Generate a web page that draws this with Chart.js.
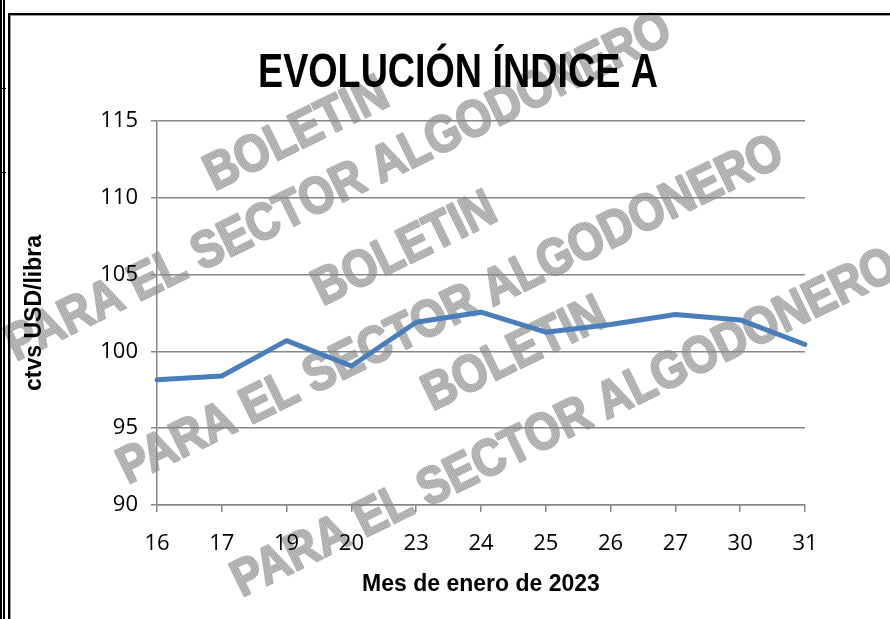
<!DOCTYPE html>
<html>
<head>
<meta charset="utf-8">
<script src="https://cdn.jsdelivr.net/npm/chart.js@4"></script>
<style>
  html, body { margin: 0; padding: 0; background: #ffffff; }
  #wrap { position: relative; width: 890px; height: 619px; overflow: hidden; }
</style>
</head>
<body>
<div id="wrap"><canvas id="indiceChart" width="890" height="619"></canvas></div>
<script>
// data
const dias = ['16', '17', '19', '20', '23', '24', '25', '26', '27', '30', '31'];
const indiceA = [98.15, 98.4, 100.7, 99.05, 101.9, 102.55, 101.25, 101.75, 102.4, 102.05, 100.45];
const yMin = 90;
const yMax = 115;
const yStep = 5;

const tituloGrafico = 'EVOLUCIÓN ÍNDICE A';
const tituloX = 'Mes de enero de 2023';
const tituloY = 'ctvs USD/libra';
const marcaAgua = ['BOLETIN', 'PARA EL SECTOR ALGODONERO'];

const gridColor = '#868686';
const lineColor = '#4a7ebb';

// watermark drawn under everything
const watermarkPlugin = {
    id: 'watermark',
    beforeDraw(chart) {
        const ctx = chart.ctx;
        ctx.save();
        ctx.fillStyle = '#ffffff';
        ctx.fillRect(0, 0, chart.width, chart.height);

        // dotted gray texture
        const tile = document.createElement('canvas');
        tile.width = 2; tile.height = 2;
        const tctx = tile.getContext('2d');
        tctx.fillStyle = '#a8a8a8';
        tctx.fillRect(0, 0, 2, 2);
        tctx.fillStyle = '#d2d2d2';
        tctx.fillRect(1, 1, 1, 1);
        const pattern = ctx.createPattern(tile, 'repeat');

        const boletin = [[297, 135], [405, 250], [515, 355]];
        const sector = [[339, 188], [451, 311], [565, 424]];
        ctx.font = 'bold 45px "Liberation Sans", Arial, sans-serif';
        ctx.textAlign = 'center';
        ctx.textBaseline = 'middle';
        ctx.fillStyle = pattern;
        ctx.strokeStyle = pattern;
        ctx.lineWidth = 2;
        ctx.lineJoin = 'round';
        const ang = -26 * Math.PI / 180;
        const pares = [[boletin, marcaAgua[0]], [sector, marcaAgua[1]]];
        for (let i = 0; i < 3; i++) {
            pares.forEach(function(p) {
                ctx.save();
                ctx.translate(p[0][i][0], p[0][i][1]);
                ctx.rotate(ang);
                ctx.scale(1, 1.15);
                ctx.fillText(p[1], 0, 0);
                ctx.strokeText(p[1], 0, 0);
                ctx.restore();
            });
        }
        ctx.restore();
    }
};

// narrow bold title, centered like the original
const titlePlugin = {
    id: 'narrowTitle',
    afterDraw(chart) {
        const ctx = chart.ctx;
        ctx.save();
        ctx.font = 'bold 49px "Liberation Sans", Arial, sans-serif';
        ctx.fillStyle = '#000000';
        ctx.textAlign = 'center';
        ctx.textBaseline = 'alphabetic';
        const w = ctx.measureText(tituloGrafico).width;
        ctx.translate(458, 87);
        ctx.scale(400 / w, 1);
        ctx.fillText(tituloGrafico, 0, 0);
        ctx.restore();
    }
};

// page frame lines around the chart
const framePlugin = {
    id: 'frame',
    afterDraw(chart) {
        const ctx = chart.ctx;
        const h = chart.height;
        const w = chart.width;
        ctx.save();
        ctx.fillStyle = '#000000';
        ctx.fillRect(0, 0, 2, h);
        ctx.fillRect(3, 0, 2, h);
        ctx.fillRect(8, 14, 2, h);
        ctx.fillRect(8, 13, w, 2);
        ctx.fillRect(0, 88, 6, 1);
        ctx.fillRect(0, 172, 6, 1);
        ctx.fillStyle = '#9a9a9a';
        ctx.fillRect(10, 15, 1, h);
        ctx.fillRect(10, 15, w, 1);
        ctx.restore();
    }
};

const ctx = document.getElementById('indiceChart').getContext('2d');
new Chart(ctx, {
    type: 'line',
    data: {
        labels: dias,
        datasets: [{
            label: tituloGrafico,
            data: indiceA,
            borderColor: lineColor,
            backgroundColor: lineColor,
            borderWidth: 5,
            pointRadius: 0,
            tension: 0,
            fill: false,
            borderJoinStyle: 'round',
            borderCapStyle: 'round'
        }]
    },
    options: {
        responsive: false,
        animation: false,
        layout: {
            padding: { top: 121, right: 85, bottom: 0, left: 0 }
        },
        plugins: {
            legend: { display: false },
            tooltip: { enabled: false },
            title: { display: false }
        },
        scales: {
            x: {
                offset: false,
                afterFit: function(scale) { scale.height = 114; },
                grid: {
                    drawOnChartArea: false,
                    drawTicks: true,
                    tickLength: 7,
                    color: gridColor,
                    lineWidth: 1.5
                },
                border: { display: true, color: gridColor, width: 1.5 },
                ticks: {
                    color: '#000000',
                    font: { family: '"Open Sans", sans-serif', size: 22 },
                    padding: 19,
                    maxRotation: 0,
                    autoSkip: false
                },
                title: {
                    display: true,
                    text: tituloX,
                    color: '#000000',
                    font: { family: '"Liberation Sans", Arial, sans-serif', size: 23, weight: 'bold' },
                    padding: { top: 0, bottom: 21 }
                }
            },
            y: {
                min: yMin,
                max: yMax,
                afterFit: function(scale) { scale.width = 157; },
                grid: {
                    color: gridColor,
                    lineWidth: 1.5,
                    tickLength: 6
                },
                border: { display: true, color: gridColor, width: 1.5 },
                ticks: {
                    stepSize: yStep,
                    color: '#000000',
                    font: { family: '"Open Sans", sans-serif', size: 22 },
                    padding: 13
                },
                title: {
                    display: true,
                    text: tituloY,
                    color: '#000000',
                    font: { family: '"Liberation Sans", Arial, sans-serif', size: 23, weight: 'bold' },
                    padding: { top: 21, bottom: 0 }
                }
            }
        }
    },
    plugins: [watermarkPlugin, titlePlugin, framePlugin]
});
</script>
</body>
</html>
